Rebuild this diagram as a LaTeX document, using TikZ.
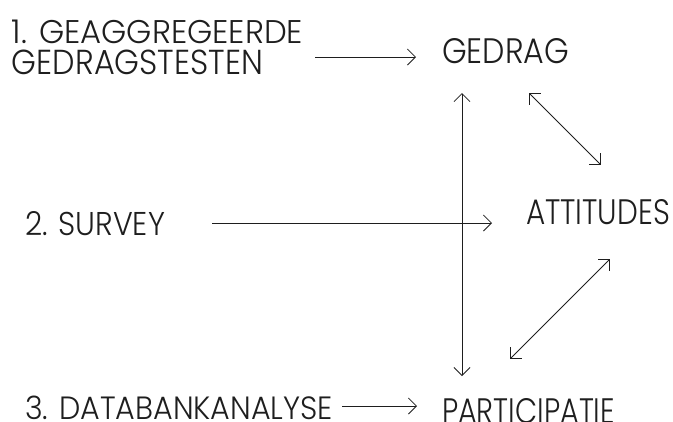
\documentclass[tikz,border=0pt]{standalone}
\usepackage{fontspec}
\setmainfont{Poppins}[UprightFont={* Light}]
\usepackage{graphicx}
\usetikzlibrary{arrows.meta}
\definecolor{ink}{HTML}{1E1E1E}
\newcommand{\fittext}[3]{\resizebox{#1pt}{#2pt}{#3}}
\tikzset{
  lbl/.style={inner sep=0pt, outer sep=0pt, anchor=base west, text=ink},
  arr/.style={draw=ink, line width=0.8pt, -{Straight Barb[length=8pt,width=16pt,line width=0.8pt]}},
  darr/.style={draw=ink, line width=0.8pt, {Straight Barb[length=8pt,width=16pt,line width=0.8pt]}-{Straight Barb[length=8pt,width=16pt,line width=0.8pt]}}
}
\begin{document}
\begin{tikzpicture}[x=1pt,y=-1pt]
\useasboundingbox (0,0) rectangle (673,421);
\clip (0,0) rectangle (673,421);
\node[lbl] (l1) at (12,43.5) {\fittext{291}{23.5}{1. GEAGGREGEERDE}};
\node[lbl] (l2) at (12,74) {\fittext{251}{24.5}{GEDRAGSTESTEN}};
\node[lbl] (gedrag) at (442,63) {\fittext{127}{25}{GEDRAG}};
\node[lbl] (survey) at (25,235) {\fittext{140}{24}{2. SURVEY}};
\node[lbl] (attitudes) at (526,224) {\fittext{144}{25}{ATTITUDES}};
\node[lbl] (data) at (25,419.5) {\fittext{308}{23.5}{3. DATABANKANALYSE}};
\node[lbl] (part) at (442,423) {\fittext{173}{25}{PARTICIPATIE}};
% connector end points
\coordinate (a1s) at (315,57);   \coordinate (a1e) at (416,57);
\coordinate (a2s) at (212,223);  \coordinate (a2e) at (492,223);
\coordinate (a3s) at (342,406);  \coordinate (a3e) at (417,406);
\coordinate (vt) at (462,93);    \coordinate (vb) at (462,376);
\coordinate (d1a) at (529,93);   \coordinate (d1b) at (601,165);
\coordinate (d2a) at (510,359);  \coordinate (d2b) at (610,259);
\draw[arr] (a1s) -- (a1e);
\draw[arr] (a2s) -- (a2e);
\draw[arr] (a3s) -- (a3e);
\draw[darr] (vt) -- (vb);
\draw[darr] (d1a) -- (d1b);
\draw[darr] (d2a) -- (d2b);
\end{tikzpicture}
\end{document}
